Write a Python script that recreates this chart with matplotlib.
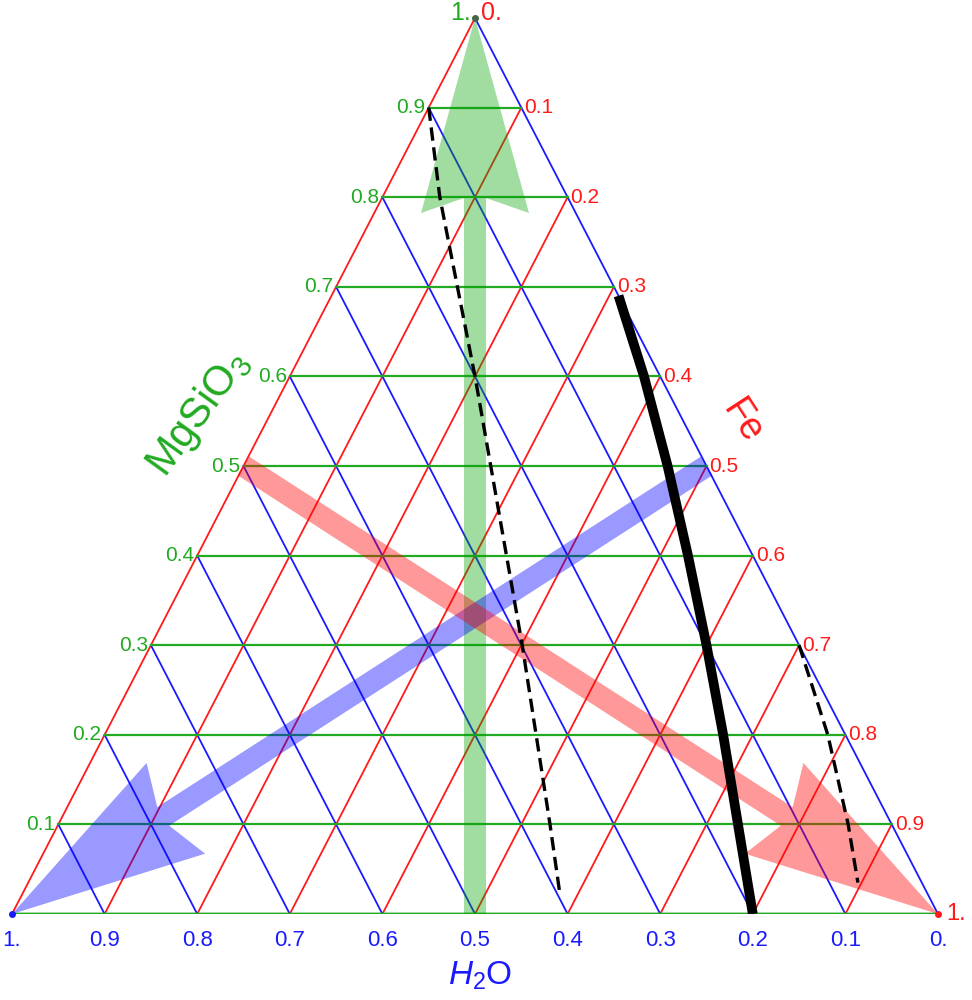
import numpy as np
import matplotlib.pyplot as plt
from matplotlib.patches import Polygon

plt.rcParams['font.family'] = ['Liberation Sans', 'DejaVu Sans']
plt.rcParams['mathtext.fontset'] = 'custom'
plt.rcParams['mathtext.rm'] = 'Liberation Sans'
plt.rcParams['mathtext.it'] = 'Liberation Sans:italic'

# grid values and labels
ticks = [0.1, 0.2, 0.3, 0.4, 0.5, 0.6, 0.7, 0.8, 0.9]
tick_labels = ['0.1', '0.2', '0.3', '0.4', '0.5', '0.6', '0.7', '0.8', '0.9']
bottom_ticks = [0.0, 0.1, 0.2, 0.3, 0.4, 0.5, 0.6, 0.7, 0.8, 0.9, 1.0]  # H2O
bottom_labels = ['0.', '0.1', '0.2', '0.3', '0.4', '0.5', '0.6', '0.7', '0.8', '0.9', '1.']

# black curves as (MgSiO3, H2O) fractions
solid_m = [0.69, 0.6, 0.5, 0.4, 0.3, 0.2, 0.1, 0.0]
solid_w = [0.0, 0.0175, 0.042, 0.070, 0.10, 0.132, 0.166, 0.2]
dash1_m = [0.9, 0.8, 0.6, 0.3, 0.1, 0.02]
dash1_w = [0.1, 0.138, 0.2, 0.299, 0.369, 0.398]
dash2_m = [0.3, 0.2, 0.1, 0.035]
dash2_w = [0.0, 0.019, 0.047, 0.069]

# arrows: (MgSiO3, Fe) at tail and tip
arrow_green = [(0.0, 0.5), (1.0, 0.0)]
arrow_blue = [(0.5, 0.5), (0.0, 0.0)]
arrow_red = [(0.5, 0.0), (0.0, 1.0)]

GREEN = '#22aa22'
RED = '#ff1a1a'
BLUE = '#1a1aff'

SX, SY = 926.0, 896.0  # pixel size of the axes


def to_xy(m, f):
    m = np.asarray(m, float)
    f = np.asarray(f, float)
    return f + m / 2, m


def mw_xy(m, w):
    m = np.asarray(m, float)
    w = np.asarray(w, float)
    return to_xy(m, 1 - m - w)


fig = plt.figure(figsize=(9.72, 10), dpi=100)
ax = fig.add_axes([12 / 972, 86 / 1000, 926 / 972, 896 / 1000])
ax.set_xlim(0, 1)
ax.set_ylim(0, 1)
ax.axis('off')

lw = 1.3
# constant Fe lines (red), parallel to left edge
for f in [0.0] + ticks:
    x, y = to_xy([0, 1 - f], [f, f])
    ax.plot(x, y, color=RED, lw=lw, zorder=1)
# constant H2O lines (blue), parallel to right edge
for w in [0.0] + ticks:
    x, y = mw_xy([0, 1 - w], [w, w])
    ax.plot(x, y, color=BLUE, lw=lw, zorder=1)
# constant MgSiO3 lines (green)
for m in ticks:
    x, y = to_xy([m, m], [0, 1 - m])
    ax.plot(x, y, color=GREEN, lw=lw + 0.3, zorder=2)
ax.plot([0, 1], [0, 0], color=GREEN, lw=2.8, alpha=0.35, zorder=2)
ax.plot([0, 1], [0, 0], color=GREEN, lw=1.6, zorder=2)


def arrow(tail, tip, color, alpha):
    xt, yt = to_xy(*tail)
    xh, yh = to_xy(*tip)
    p0 = np.array([xt * SX, yt * SY])
    p1 = np.array([xh * SX, yh * SY])
    d = p0 - p1
    L = np.hypot(*d)
    u = d / L
    n = np.array([-u[1], u[0]])
    hl, hw, notch, sw = 195, 54, 180, 11
    pts = [p1,
           p1 + u * hl + n * hw,
           p1 + u * notch + n * sw,
           p1 + u * L + n * sw,
           p1 + u * L - n * sw,
           p1 + u * notch - n * sw,
           p1 + u * hl - n * hw]
    pts = np.array(pts) / np.array([SX, SY])
    ax.add_patch(Polygon(pts, closed=True, facecolor=color, edgecolor='none',
                         alpha=alpha, zorder=3))


arrow(arrow_green[0], arrow_green[1], '#00a000', 0.37)
arrow(arrow_blue[0], arrow_blue[1], '#0000ff', 0.40)
arrow(arrow_red[0], arrow_red[1], '#ff0000', 0.40)

# black curves
x, y = mw_xy(solid_m, solid_w)
ax.plot(x, y, color='black', lw=7, solid_capstyle='butt', solid_joinstyle='round', zorder=5)
x, y = mw_xy(dash1_m, dash1_w)
ax.plot(x, y, color='black', lw=2.4, dashes=(4, 2), zorder=5)
x, y = mw_xy(dash2_m, dash2_w)
ax.plot(x, y, color='black', lw=2.4, dashes=(4, 2), zorder=5)

# vertex dots
ax.plot([0], [0], 'o', color=BLUE, ms=4, zorder=6, clip_on=False)
ax.plot([1], [0], 'o', color=RED, ms=4, zorder=6, clip_on=False)
ax.plot([0.5], [1], 'o', color='#446644', ms=4, zorder=6, clip_on=False)

# tick labels
for t, lab in zip(ticks, tick_labels):
    x, y = to_xy(t, 0)
    ax.annotate(lab, (x, y), xytext=(-3, 0), textcoords='offset pixels',
                ha='right', va='center', color=GREEN, fontsize=15, zorder=7)
    x, y = to_xy(1 - t, t)
    ax.annotate(lab, (x, y), xytext=(3, 0), textcoords='offset pixels',
                ha='left', va='center', color=RED, fontsize=15, zorder=7)
for w, lab in zip(bottom_ticks, bottom_labels):
    x, y = mw_xy(0, w)
    ax.annotate(lab, (x, y), xytext=(0, -16), textcoords='offset pixels',
                ha='center', va='top', color=BLUE, fontsize=16, zorder=7)

ax.annotate('1.', (0.5, 1), xytext=(-4, 5), textcoords='offset pixels',
            ha='right', va='center', color=GREEN, fontsize=18)
ax.annotate('0.', (0.5, 1), xytext=(6, 5), textcoords='offset pixels',
            ha='left', va='center', color=RED, fontsize=18)
ax.annotate('1.', (1, 0), xytext=(8, 0), textcoords='offset pixels',
            ha='left', va='center', color=RED, fontsize=17)

# axis titles
ax.annotate(r'MgSiO$_3$', (0, 0), xytext=(187, 500), textcoords='offset pixels',
            ha='center', va='center', rotation=54, color=GREEN, fontsize=30)
ax.annotate('Fe', (0, 0), xytext=(730, 492), textcoords='offset pixels',
            ha='center', va='center', rotation=-57, color=RED, fontsize=27)
ax.annotate(r'$H_2\mathrm{O}$', (0, 0), xytext=(468, -62), textcoords='offset pixels',
            ha='center', va='center', color=BLUE, fontsize=24)

fig.savefig('out.png', dpi=100)
